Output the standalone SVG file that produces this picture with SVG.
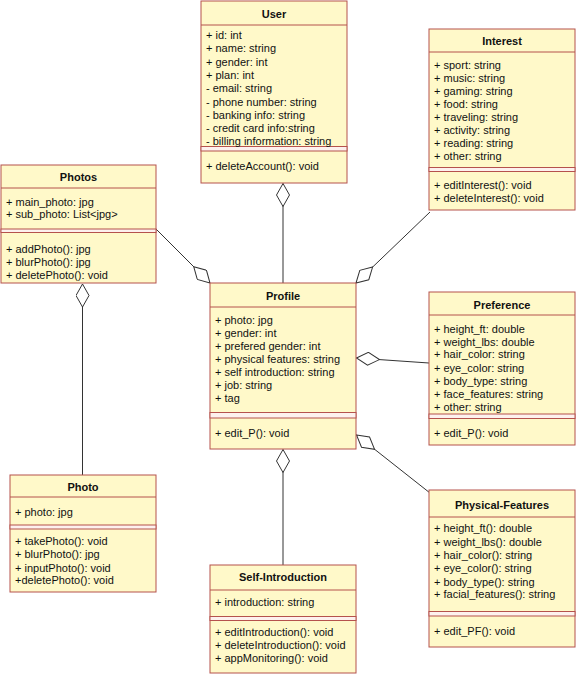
<svg xmlns="http://www.w3.org/2000/svg" width="576" height="679" viewBox="0 0 576 679">
<defs>
<style>
.box{fill:#fff9c9;stroke:#b5524d;stroke-width:1}
.sep{fill:#fdf1ee;stroke:#b5524d;stroke-width:1}
.hl{stroke:#b5524d;stroke-width:1}
.t{font-family:"Liberation Sans",Arial,Helvetica,sans-serif;font-size:11px;fill:#111}
.h{font-family:"Liberation Sans",Arial,Helvetica,sans-serif;font-size:11px;font-weight:bold;fill:#111;text-anchor:middle}
.c{fill:none;stroke:#333;stroke-width:1}
</style>
<marker id="dia" viewBox="0 0 24 14" markerWidth="24" markerHeight="14" refX="0.5" refY="7" orient="auto" markerUnits="userSpaceOnUse">
<path d="M0.5,7 L12,0.5 L23.5,7 L12,13.5 Z" fill="#ffffff" stroke="#333" stroke-width="1"/>
</marker>
</defs>
<rect width="576" height="679" fill="#ffffff"/>

<g id="connectors">
<path class="c" d="M283,183.5 L283,283" marker-start="url(#dia)"/>
<path class="c" d="M210,283 L156,229" marker-start="url(#dia)"/>
<path class="c" d="M356,283 L430,212" marker-start="url(#dia)"/>
<path class="c" d="M356.5,358 L429,363" marker-start="url(#dia)"/>
<path class="c" d="M356.5,435 L430,493" marker-start="url(#dia)"/>
<path class="c" d="M82.5,284 L82.5,475" marker-start="url(#dia)"/>
<path class="c" d="M283,449.5 L283,565" marker-start="url(#dia)"/>
</g>

<g id="User">
<rect class="box" x="201" y="1" width="146" height="182"/>
<line class="hl" x1="201" y1="25" x2="347" y2="25"/>
<rect class="sep" x="201" y="146.5" width="146" height="4.5"/>
<text class="h" x="274" y="18">User</text>
<text class="t" x="206" y="39">+ id: int</text>
<text class="t" x="206" y="52.3">+ name: string</text>
<text class="t" x="206" y="65.6">+ gender: int</text>
<text class="t" x="206" y="78.9">+ plan: int</text>
<text class="t" x="206" y="92.2">- email: string</text>
<text class="t" x="206" y="105.5">- phone number: string</text>
<text class="t" x="206" y="118.8">- banking info: string</text>
<text class="t" x="206" y="132.1">- credit card info:string</text>
<text class="t" x="206" y="145.4">- billing information: string</text>
<text class="t" x="206" y="170">+ deleteAccount(): void</text>
</g>

<g id="Interest">
<rect class="box" x="429" y="29" width="146" height="181"/>
<line class="hl" x1="429" y1="52" x2="575" y2="52"/>
<rect class="sep" x="429" y="167.5" width="146" height="4"/>
<text class="h" x="502" y="44.7">Interest</text>
<text class="t" x="434" y="69">+ sport: string</text>
<text class="t" x="434" y="82">+ music: string</text>
<text class="t" x="434" y="95">+ gaming: string</text>
<text class="t" x="434" y="108">+ food: string</text>
<text class="t" x="434" y="121">+ traveling: string</text>
<text class="t" x="434" y="134">+ activity: string</text>
<text class="t" x="434" y="147">+ reading: string</text>
<text class="t" x="434" y="160">+ other: string</text>
<text class="t" x="434" y="189">+ editInterest(): void</text>
<text class="t" x="434" y="202">+ deleteInterest(): void</text>
</g>

<g id="Photos">
<rect class="box" x="1" y="165" width="155" height="118"/>
<line class="hl" x1="1" y1="188" x2="156" y2="188"/>
<rect class="sep" x="1" y="229" width="155" height="3.5"/>
<text class="h" x="78.5" y="180.7">Photos</text>
<text class="t" x="6" y="205.7">+ main_photo: jpg</text>
<text class="t" x="6" y="218.3">+ sub_photo: List&lt;jpg&gt;</text>
<text class="t" x="6" y="253.3">+ addPhoto(): jpg</text>
<text class="t" x="6" y="266">+ blurPhoto(): jpg</text>
<text class="t" x="6" y="279">+ deletePhoto(): void</text>
</g>

<g id="Profile">
<rect class="box" x="210" y="283" width="146" height="166"/>
<line class="hl" x1="210" y1="307" x2="356" y2="307"/>
<rect class="sep" x="210" y="412.5" width="146" height="5.5"/>
<text class="h" x="283" y="299.7">Profile</text>
<text class="t" x="215" y="324">+ photo: jpg</text>
<text class="t" x="215" y="336.7">+ gender: int</text>
<text class="t" x="215" y="349.7">+ prefered gender: int</text>
<text class="t" x="215" y="363">+ physical features: string</text>
<text class="t" x="215" y="376">+ self introduction: string</text>
<text class="t" x="215" y="389">+ job: string</text>
<text class="t" x="215" y="401.7">+ tag</text>
<text class="t" x="215" y="436.7">+ edit_P(): void</text>
</g>

<g id="Preference">
<rect class="box" x="429" y="292" width="146" height="153"/>
<line class="hl" x1="429" y1="315" x2="575" y2="315"/>
<rect class="sep" x="429" y="414" width="146" height="4.5"/>
<text class="h" x="502" y="309">Preference</text>
<text class="t" x="434" y="333.3">+ height_ft: double</text>
<text class="t" x="434" y="345.7">+ weight_lbs: double</text>
<text class="t" x="434" y="358.3">+ hair_color: string</text>
<text class="t" x="434" y="371.7">+ eye_color: string</text>
<text class="t" x="434" y="384.7">+ body_type: string</text>
<text class="t" x="434" y="397.7">+ face_features: string</text>
<text class="t" x="434" y="410.7">+ other: string</text>
<text class="t" x="434" y="437.3">+ edit_P(): void</text>
</g>

<g id="Photo">
<rect class="box" x="10" y="475" width="146" height="117"/>
<line class="hl" x1="10" y1="497" x2="156" y2="497"/>
<rect class="sep" x="10" y="525" width="146" height="4"/>
<text class="h" x="83" y="491.3">Photo</text>
<text class="t" x="15" y="516.3">+ photo: jpg</text>
<text class="t" x="15" y="545">+ takePhoto(): void</text>
<text class="t" x="15" y="558.3">+ blurPhoto(): jpg</text>
<text class="t" x="15" y="571.7">+ inputPhoto(): void</text>
<text class="t" x="15" y="584">+deletePhoto(): void</text>
</g>

<g id="Self-Introduction">
<rect class="box" x="210" y="565" width="146" height="108"/>
<line class="hl" x1="210" y1="590" x2="356" y2="590"/>
<rect class="sep" x="210" y="616.5" width="146" height="4"/>
<text class="h" x="283" y="581.3">Self-Introduction</text>
<text class="t" x="215" y="605.7">+ introduction: string</text>
<text class="t" x="215" y="635.7">+ editIntroduction(): void</text>
<text class="t" x="215" y="649">+ deleteIntroduction(): void</text>
<text class="t" x="215" y="662.3">+ appMonitoring(): void</text>
</g>

<g id="Physical-Features">
<rect class="box" x="429" y="490" width="146" height="157"/>
<line class="hl" x1="429" y1="517" x2="575" y2="517"/>
<rect class="sep" x="429" y="611.5" width="146" height="4.5"/>
<text class="h" x="502" y="509">Physical-Features</text>
<text class="t" x="434" y="532.3">+ height_ft(): double</text>
<text class="t" x="434" y="545.7">+ weight_lbs(): double</text>
<text class="t" x="434" y="559">+ hair_color(): string</text>
<text class="t" x="434" y="572.3">+ eye_color(): string</text>
<text class="t" x="434" y="585.7">+ body_type(): string</text>
<text class="t" x="434" y="598.3">+ facial_features(): string</text>
<text class="t" x="434" y="634.7">+ edit_PF(): void</text>
</g>
</svg>
